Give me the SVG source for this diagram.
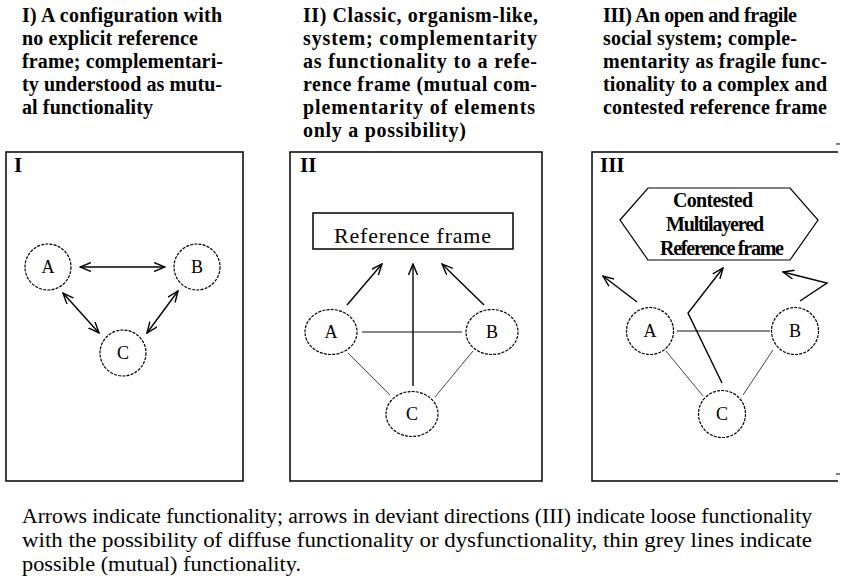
<svg xmlns="http://www.w3.org/2000/svg" width="841" height="580" viewBox="0 0 841 580">
<style>
.h{font-family:"Liberation Serif","Times New Roman",serif;font-weight:bold;font-size:20px;fill:#000}
.cap{font-family:"Liberation Serif","Times New Roman",serif;font-size:20px;fill:#000}
.lbl{font-family:"Liberation Serif","Times New Roman",serif;font-weight:bold;font-size:21px;fill:#000}
.nt{font-family:"Liberation Serif","Times New Roman",serif;font-size:18px;fill:#000;text-anchor:middle}
.box{fill:none;stroke:#000;stroke-width:1.5}
.node{fill:#fff;stroke:#000;stroke-width:1.2;stroke-dasharray:3 1.2}
.arr{fill:none;stroke:#000;stroke-width:1.4}
.thin{fill:none;stroke:#444;stroke-width:1}
.mid{fill:none;stroke:#111;stroke-width:1.1}
</style>
<defs>
<marker id="ah" viewBox="0 0 12 10" refX="11" refY="5" markerWidth="12" markerHeight="10" markerUnits="userSpaceOnUse" orient="auto-start-reverse">
<path d="M0,0.5 L11,5 L0,9.5" fill="none" stroke="#000" stroke-width="1.4"/>
</marker>
</defs>
<rect width="841" height="580" fill="#fff"/>

<g id="headers">
<text class="h" x="22" y="22" textLength="200">I) A configuration with</text>
<text class="h" x="22" y="45" textLength="176">no explicit reference</text>
<text class="h" x="22" y="68" textLength="201">frame; complementari-</text>
<text class="h" x="22" y="91" textLength="200">ty understood as mutu-</text>
<text class="h" x="22" y="114" textLength="131">al functionality</text>

<text class="h" x="303" y="22" textLength="235">II) Classic, organism-like,</text>
<text class="h" x="303" y="45" textLength="234">system; complementarity</text>
<text class="h" x="303" y="68" textLength="234">as functionality to a refe-</text>
<text class="h" x="303" y="91" textLength="234">rence frame (mutual com-</text>
<text class="h" x="303" y="114" textLength="232">plementarity of elements</text>
<text class="h" x="303" y="137" textLength="163">only a possibility)</text>

<text class="h" x="603" y="22" textLength="194">III) An open and fragile</text>
<text class="h" x="603" y="45" textLength="194">social system; comple-</text>
<text class="h" x="603" y="68" textLength="224">mentarity as fragile func-</text>
<text class="h" x="603" y="91" textLength="224">tionality to a complex and</text>
<text class="h" x="603" y="114" textLength="224">contested reference frame</text>
</g>

<g id="panel-I">
<rect class="box" x="6" y="152" width="237" height="329"/>
<text class="lbl" x="14" y="172">I</text>
</g>
<g id="panel-II">
<rect class="box" x="290" y="152" width="252" height="329"/>
<text class="lbl" x="300" y="172">II</text>
</g>
<g id="panel-III">
<path class="box" d="M838,152 H592 V481 H838"/>
<text class="lbl" x="600" y="172">III</text>
<path d="M836,144 H840 M836,474 H840" stroke="#000" stroke-width="1.2"/>
</g>

<g id="connectors">
<line class="arr" x1="80" y1="267" x2="165" y2="267" marker-start="url(#ah)" marker-end="url(#ah)"/>
<line class="arr" x1="63" y1="293" x2="99" y2="333" marker-start="url(#ah)" marker-end="url(#ah)"/>
<line class="arr" x1="178" y1="291" x2="147" y2="333" marker-start="url(#ah)" marker-end="url(#ah)"/>
<line class="mid" x1="362" y1="332" x2="462" y2="332"/>
<line class="thin" x1="348" y1="353" x2="390" y2="395"/>
<line class="thin" x1="473" y1="351" x2="435" y2="397"/>
<line class="arr" x1="413" y1="386" x2="413" y2="264" stroke-width="2" marker-end="url(#ah)"/>
<line class="arr" x1="347" y1="305" x2="382" y2="264" marker-end="url(#ah)"/>
<line class="arr" x1="484" y1="305" x2="442" y2="264" marker-end="url(#ah)"/>
<line class="mid" x1="677" y1="331" x2="770" y2="331"/>
<line class="thin" x1="666" y1="351" x2="703" y2="396"/>
<line class="thin" x1="773" y1="350" x2="743" y2="395"/>
<line class="arr" x1="637" y1="302" x2="603" y2="276" marker-end="url(#ah)"/>
<polyline class="arr" points="722,383 688,313 723,268" marker-end="url(#ah)"/>
<polyline class="arr" points="800,301 827,283 783,272" marker-end="url(#ah)"/>
</g>

<g id="node-I-A"><circle class="node" cx="48" cy="267" r="23"/><text class="nt" x="48" y="273">A</text></g>
<g id="node-I-B"><circle class="node" cx="197" cy="267" r="23"/><text class="nt" x="197" y="273">B</text></g>
<g id="node-I-C"><circle class="node" cx="123" cy="353" r="23"/><text class="nt" x="123" y="359">C</text></g>

<g id="node-II-ref">
<rect x="313" y="213" width="200" height="36" fill="#fff" stroke="#000" stroke-width="1.5"/>
<text x="334" y="243" textLength="157" font-family="Liberation Serif, Times New Roman, serif" font-size="22" fill="#000">Reference frame</text>
</g>
<g id="node-II-A"><ellipse class="node" cx="331" cy="332" rx="26" ry="22.5"/><text class="nt" x="331" y="338">A</text></g>
<g id="node-II-B"><ellipse class="node" cx="492" cy="332" rx="26" ry="22.5"/><text class="nt" x="492" y="338">B</text></g>
<g id="node-II-C"><ellipse class="node" cx="412" cy="414" rx="26" ry="22.5"/><text class="nt" x="412" y="420">C</text></g>

<g id="node-III-ref">
<polygon points="620,220 648,188 790,188 818,220 790,260 648,260" fill="#fff" stroke="#000" stroke-width="1.2"/>
<text class="h" x="673" y="207" font-size="18" textLength="80">Contested</text>
<text class="h" x="666" y="231" font-size="18" textLength="98">Multilayered</text>
<text class="h" x="660" y="255" font-size="18" textLength="124">Reference frame</text>
</g>
<g id="node-III-A"><circle class="node" cx="650" cy="331" r="23.5"/><text class="nt" x="650" y="337">A</text></g>
<g id="node-III-B"><circle class="node" cx="795" cy="331" r="23.5"/><text class="nt" x="795" y="337">B</text></g>
<g id="node-III-C"><circle class="node" cx="722" cy="414" r="23.5"/><text class="nt" x="722" y="420">C</text></g>

<g id="caption">
<text class="cap" x="22" y="523" textLength="790" lengthAdjust="spacingAndGlyphs">Arrows indicate functionality; arrows in deviant directions (III) indicate loose functionality</text>
<text class="cap" x="22" y="547" textLength="790" lengthAdjust="spacingAndGlyphs">with the possibility of diffuse functionality or dysfunctionality, thin grey lines indicate</text>
<text class="cap" x="22" y="571" textLength="279" lengthAdjust="spacingAndGlyphs">possible (mutual) functionality.</text>
</g>
</svg>
